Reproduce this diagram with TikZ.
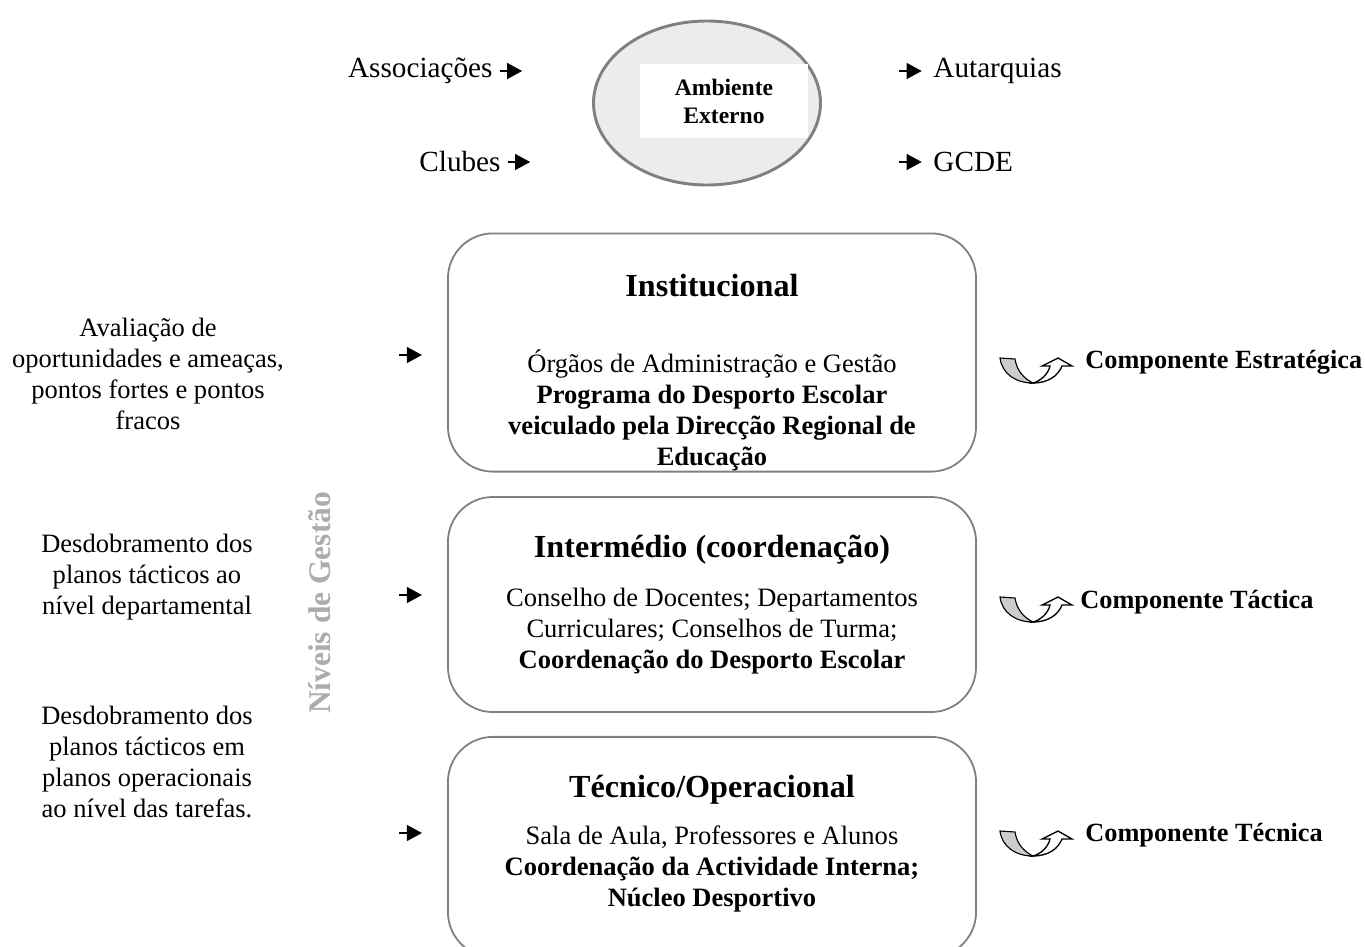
\documentclass[tikz,border=0pt]{standalone}
\usepackage{fontspec}
\setmainfont{Liberation Serif}
\usetikzlibrary{arrows.meta,shapes.geometric}

\tikzset{
  plain/.style={inner sep=0pt, font=\fontsize{11.8}{13.8}\selectfont, align=center},
  toplabel/.style={inner sep=0pt, font=\fontsize{13}{14}\selectfont},
  leveltitle/.style={inner sep=0pt, font=\fontsize{14.3}{16}\selectfont\bfseries},
  levelbox/.style={draw=gray, line width=0.8pt, rounded corners=20pt, minimum width=235pt},
  complabel/.style={inner sep=0pt, anchor=west, font=\fontsize{11.7}{13}\selectfont\bfseries},
  smallarr/.style={-{Triangle[length=6.7pt,width=7pt]}, line width=0.9pt},
  ucurl/.pic={
    % grey ribbon
    \filldraw[fill=gray!40, draw=black, line width=0.5pt] (0,0) -- (15,1)
      .. controls (17,14) and (25,21) .. (33,25)
      .. controls (16,25) and (2,16) .. (0,0) -- cycle;
    % white arrow
    \filldraw[fill=white, draw=black, line width=0.6pt] (33,25)
      .. controls (48,25) and (58,18) .. (62,8) -- (72,8) -- (58,0) -- (42,8) -- (50,8)
      .. controls (48,17) and (40,23) .. (33,25) -- cycle;
  }
}

\begin{document}
\begin{tikzpicture}[x=0.445pt, y=-0.445pt]
\useasboundingbox (0,0) rectangle (1365,947);
\clip (0,0) rectangle (1365,947);

% External environment
\node[ellipse, draw=gray, line width=1.3pt, fill=gray!15,
      minimum width=101pt, minimum height=73pt] (ambient) at (707,103) {};
\node[fill=white, minimum width=74.8pt, minimum height=33pt, align=center,
      font=\fontsize{10.5}{12.5}\selectfont\bfseries] (ambtext) at (724,101) {Ambiente\\Externo};

% Outside partners
\node[toplabel, anchor=east] (assoc) at (493,71) {Associações};
\node[toplabel, anchor=east] (clubes) at (501,162) {Clubes};
\node[toplabel, anchor=west] (autarq) at (933,71) {Autarquias};
\node[toplabel, anchor=west] (gcde) at (933,162) {GCDE};
\draw[smallarr] ([xshift=3pt]assoc.east) -- ([xshift=13pt]assoc.east);
\draw[smallarr] ([xshift=3pt]clubes.east) -- ([xshift=13pt]clubes.east);
\draw[smallarr] ([xshift=-15pt]autarq.west) -- ([xshift=-5pt]autarq.west);
\draw[smallarr] ([xshift=-15pt]gcde.west) -- ([xshift=-5pt]gcde.west);

% Management levels
\node[levelbox, minimum height=106pt] (instbox) at (712,352.5) {};
\node[leveltitle] (insttitle) at (712,286) {Institucional};
\node[plain] (instbody) at (712,410) {Órgãos de Administração e Gestão\\
  \textbf{Programa do Desporto Escolar}\\
  \textbf{veiculado pela Direcção Regional de}\\
  \textbf{Educação}};

\node[levelbox, minimum height=95.7pt] (interbox) at (712,604.5) {};
\node[leveltitle] (intertitle) at (712,550) {Intermédio (coordenação)};
\node[plain] (interbody) at (712,631) {Conselho de Docentes; Departamentos\\
  Curriculares; Conselhos de Turma;\\
  \textbf{Coordenação do Desporto Escolar}};

\node[levelbox, minimum height=98pt] (tecbox) at (712,847) {};
\node[leveltitle] (tectitle) at (712,790) {Técnico/Operacional};
\node[plain] (tecbody) at (712,869) {Sala de Aula, Professores e Alunos\\
  \textbf{Coordenação da Actividade Interna;}\\
  \textbf{Núcleo Desportivo}};

% Vertical label
\node[rotate=90, inner sep=0pt, text=gray!65, font=\fontsize{14}{16}\selectfont\bfseries]
  (niveis) at (320,603) {Níveis de Gestão};

% Left descriptions
\node[plain] (desc1) at (148,374) {Avaliação de\\oportunidades e ameaças,\\pontos fortes e pontos\\fracos};
\node[plain] (desc2) at (147,577) {Desdobramento dos\\planos tácticos ao\\nível departamental};
\node[plain] (desc3) at (147,762) {Desdobramento dos\\planos tácticos em\\planos operacionais\\ao nível das tarefas.};

% Small arrows towards the levels
\coordinate (in1) at (399,355);
\coordinate (in2) at (399,595);
\coordinate (in3) at (399,833);
\draw[smallarr] (in1) -- ++(23,0);
\draw[smallarr] (in2) -- ++(23,0);
\draw[smallarr] (in3) -- ++(23,0);

% Components
\pic at (1000,358) {ucurl};
\pic at (1000,597) {ucurl};
\pic at (1000,831) {ucurl};
\node[complabel] (estrat) at (1085,362) {Componente Estratégica};
\node[complabel] (tactica) at (1080,602) {Componente Táctica};
\node[complabel] (tecnica) at (1085,835) {Componente Técnica};
\end{tikzpicture}
\end{document}
